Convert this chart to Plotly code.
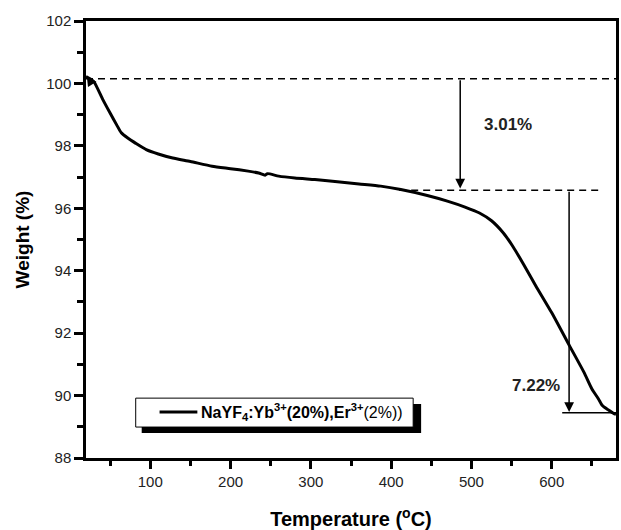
import plotly.graph_objects as go

# ---- data ----
temp = [20, 25, 30, 41, 50, 58, 64, 72, 82, 95, 110, 128, 150, 177, 200, 222, 235, 243, 246, 260, 280, 305, 330, 360, 387, 412, 445, 470, 492, 510, 525, 540, 552, 565, 580, 600, 622, 640, 650, 658, 663, 670, 677, 680]
weight = [100.22, 100.15, 100.05, 99.48, 99.05, 98.68, 98.42, 98.25, 98.08, 97.88, 97.74, 97.61, 97.50, 97.35, 97.27, 97.19, 97.13, 97.06, 97.11, 97.03, 96.97, 96.92, 96.86, 96.78, 96.71, 96.60, 96.41, 96.23, 96.04, 95.85, 95.60, 95.20, 94.76, 94.20, 93.52, 92.65, 91.60, 90.75, 90.21, 89.90, 89.68, 89.55, 89.43, 89.40]

level_start = 100.15
level_mid = 96.58
level_end = 89.45
step1_x = 486
step2_x = 621.6
labels = ["3.01%", "7.22%"]
legend_name = "<b>NaYF<sub>4</sub>:Yb<sup>3+</sup>(20%),Er<sup>3+</sup></b>(2%))"

FONT = "Liberation Sans, Arial, sans-serif"

fig = go.Figure()
fig.add_trace(go.Scatter(x=temp, y=weight, mode="lines",
                         line=dict(color="black", width=3, shape="spline", smoothing=0.6),
                         name=legend_name, showlegend=False))

# dashed reference levels
fig.add_shape(type="line", x0=20, x1=680, y0=level_start, y1=level_start,
              line=dict(color="black", width=1.5, dash="7px,5px"))
fig.add_shape(type="line", x0=410, x1=662, y0=level_mid, y1=level_mid,
              line=dict(color="black", width=1.5, dash="7px,5px"))
# solid end level
fig.add_shape(type="line", x0=613, x1=680, y0=level_end, y1=level_end,
              line=dict(color="black", width=1.5))

# arrows
fig.add_annotation(x=step1_x, y=level_mid + 0.05, ax=step1_x, ay=level_start,
                   xref="x", yref="y", axref="x", ayref="y", text="",
                   showarrow=True, arrowhead=2, arrowsize=1.3, arrowwidth=1.5, arrowcolor="black")
fig.add_annotation(x=step2_x, y=level_end + 0.02, ax=step2_x, ay=level_mid,
                   xref="x", yref="y", axref="x", ayref="y", text="",
                   showarrow=True, arrowhead=2, arrowsize=1.3, arrowwidth=1.5, arrowcolor="black")
# small arrow at start of curve
fig.add_annotation(x=21, y=100.24, ax=27, ay=100.0,
                   xref="x", yref="y", axref="x", ayref="y", text="",
                   showarrow=True, arrowhead=2, arrowsize=1.0, arrowwidth=2, arrowcolor="black")

fig.add_annotation(x=545, y=98.68, text="<b>" + labels[0] + "</b>", showarrow=False,
                   font=dict(family=FONT, size=17, color="#222"))
fig.add_annotation(x=580, y=90.32, text="<b>" + labels[1] + "</b>", showarrow=False,
                   font=dict(family=FONT, size=17, color="#222"))

# legend (drawn box with shadow)
fig.add_shape(type="rect", xref="paper", yref="paper",
              x0=0.1051, x1=0.6323, y0=0.0571, y1=0.1233,
              fillcolor="black", line=dict(width=0), layer="above")
fig.add_shape(type="rect", xref="paper", yref="paper",
              x0=0.0938, x1=0.6173, y0=0.0708, y1=0.137,
              fillcolor="white", line=dict(color="black", width=1), layer="above")
fig.add_shape(type="line", xref="paper", yref="paper",
              x0=0.1388, x1=0.2101, y0=0.105, y1=0.105,
              line=dict(color="black", width=3), layer="above")
fig.add_annotation(xref="paper", yref="paper", x=0.2139, y=0.105,
                   xanchor="left", yanchor="middle", text=legend_name, showarrow=False,
                   font=dict(family=FONT, size=16, color="black"))

fig.update_layout(
    width=621, height=530,
    margin=dict(l=86, r=2, t=21, b=71),
    plot_bgcolor="white", paper_bgcolor="white",
    font=dict(family=FONT, size=15, color="#222"),
    showlegend=False,
    xaxis=dict(range=[20, 680], tickvals=[100, 200, 300, 400, 500, 600],
               ticks="outside", ticklen=8, tickwidth=2.5, tickcolor="black",
               minor=dict(tickvals=[50, 150, 250, 350, 450, 550, 650], ticks="outside",
                          ticklen=5, tickwidth=2.5, tickcolor="black"),
               showline=True, linewidth=2.5, linecolor="black", mirror=True,
               showgrid=False, zeroline=False,
               title=dict(text="<b>Temperature (<sup>o</sup>C)</b>", standoff=24,
                          font=dict(family=FONT, size=20, color="black"))),
    yaxis=dict(range=[88, 102], tickvals=[88, 90, 92, 94, 96, 98, 100, 102],
               ticks="outside", ticklen=9, tickwidth=2.5, tickcolor="black",
               minor=dict(tickvals=[89, 91, 93, 95, 97, 99, 101], ticks="outside",
                          ticklen=6, tickwidth=2.5, tickcolor="black"),
               showline=True, linewidth=2.5, linecolor="black", mirror=True,
               showgrid=False, zeroline=False,
               title=dict(text="<b>Weight (%)</b>", standoff=12,
                          font=dict(family=FONT, size=19, color="black"))),
)

fig.write_html("out.html")
